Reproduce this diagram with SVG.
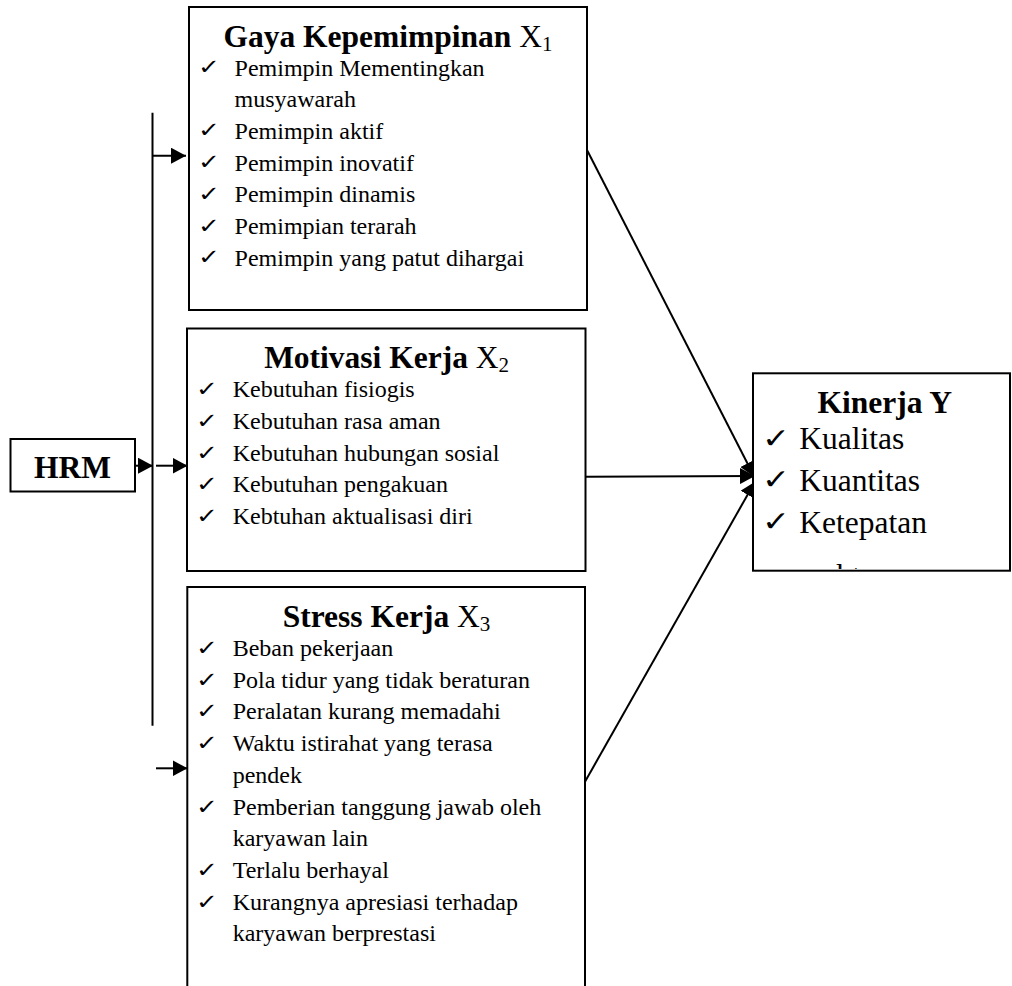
<svg xmlns="http://www.w3.org/2000/svg" width="1012" height="986" viewBox="0 0 1012 986">
<style>
.box{fill:#fff;stroke:#000;stroke-width:2}
.t{font-family:"Liberation Serif","Times New Roman",serif;font-weight:bold;font-size:31.5px;fill:#000}
.x{font-weight:normal}
.sub{font-weight:normal;font-size:21px}
.it{font-family:"Liberation Serif","Times New Roman",serif;font-size:24px;fill:#000}
.ck{font-family:"DejaVu Sans",sans-serif;font-size:21px;fill:#000}
.kit{font-family:"Liberation Serif","Times New Roman",serif;font-size:31.5px;fill:#000}
.kck{font-family:"DejaVu Sans",sans-serif;font-size:28px;fill:#000}
.ln{stroke:#000;stroke-width:2;fill:none}
</style>
<defs>
<marker id="ah" markerUnits="userSpaceOnUse" markerWidth="15" markerHeight="16" refX="15" refY="8" orient="auto" viewBox="0 0 15 16">
<path d="M0,0 L15,8 L0,16 z" fill="#000"/>
</marker>
<clipPath id="kclip"><rect x="753" y="373" width="257" height="196"/></clipPath>
</defs>
<rect width="1012" height="986" fill="#fff"/>

<g id="connectors">
<line class="ln" x1="152.5" y1="112.7" x2="152.5" y2="725.7"/>
<line class="ln" x1="152.5" y1="155.7" x2="186" y2="155.7" marker-end="url(#ah)"/>
<line class="ln" x1="135" y1="465.7" x2="153" y2="465.7" marker-end="url(#ah)"/>
<line class="ln" x1="156" y1="465.7" x2="187.5" y2="465.7" marker-end="url(#ah)"/>
<line class="ln" x1="156" y1="768.3" x2="187.5" y2="768.3" marker-end="url(#ah)"/>
<line class="ln" x1="587" y1="150" x2="754.3" y2="476.7" marker-end="url(#ah)"/>
<line class="ln" x1="585.5" y1="476.7" x2="755" y2="476" marker-end="url(#ah)"/>
<line class="ln" x1="585" y1="781.7" x2="755" y2="481.7" marker-end="url(#ah)"/>
</g>

<g id="hrm">
<rect class="box" x="10.5" y="439" width="124.5" height="52.5"/>
<text class="t" x="72.5" y="478.3" text-anchor="middle">HRM</text>
</g>

<g id="gaya">
<rect class="box" x="189" y="7" width="398" height="303"/>
<text class="t" x="388" y="46.7" text-anchor="middle">Gaya Kepemimpinan <tspan class="x">X</tspan><tspan class="sub" dy="4">1</tspan></text>
<g class="ck">
<text x="198" y="74" textLength="22" lengthAdjust="spacingAndGlyphs">✓</text><text x="198" y="137.4" textLength="22" lengthAdjust="spacingAndGlyphs">✓</text><text x="198" y="169.1" textLength="22" lengthAdjust="spacingAndGlyphs">✓</text><text x="198" y="200.8" textLength="22" lengthAdjust="spacingAndGlyphs">✓</text><text x="198" y="232.5" textLength="22" lengthAdjust="spacingAndGlyphs">✓</text><text x="198" y="264.2" textLength="22" lengthAdjust="spacingAndGlyphs">✓</text>
</g>
<g class="it">
<text x="234.6" y="75.5">Pemimpin Mementingkan</text>
<text x="234.6" y="107.2">musyawarah</text>
<text x="234.6" y="138.9">Pemimpin aktif</text>
<text x="234.6" y="170.6">Pemimpin inovatif</text>
<text x="234.6" y="202.3">Pemimpin dinamis</text>
<text x="234.6" y="234">Pemimpian terarah</text>
<text x="234.6" y="265.7">Pemimpin yang patut dihargai</text>
</g>
</g>

<g id="motivasi">
<rect class="box" x="187" y="328.5" width="398.5" height="242.5"/>
<text class="t" x="386.6" y="368.3" text-anchor="middle">Motivasi Kerja <tspan class="x">X</tspan><tspan class="sub" dy="4">2</tspan></text>
<g class="ck">
<text x="196" y="396.3" textLength="22" lengthAdjust="spacingAndGlyphs">✓</text><text x="196" y="428" textLength="22" lengthAdjust="spacingAndGlyphs">✓</text><text x="196" y="459.7" textLength="22" lengthAdjust="spacingAndGlyphs">✓</text><text x="196" y="491.4" textLength="22" lengthAdjust="spacingAndGlyphs">✓</text><text x="196" y="523.1" textLength="22" lengthAdjust="spacingAndGlyphs">✓</text>
</g>
<g class="it">
<text x="232.7" y="397.3">Kebutuhan fisiogis</text>
<text x="232.7" y="429">Kebutuhan rasa aman</text>
<text x="232.7" y="460.7">Kebutuhan hubungan sosial</text>
<text x="232.7" y="492.4">Kebutuhan pengakuan</text>
<text x="232.7" y="524.1">Kebtuhan aktualisasi diri</text>
</g>
</g>

<g id="stress">
<rect class="box" x="187.3" y="587" width="397.7" height="420"/>
<text class="t" x="386.5" y="626.7" text-anchor="middle">Stress Kerja <tspan class="x">X</tspan><tspan class="sub" dy="4">3</tspan></text>
<g class="ck">
<text x="196" y="655" textLength="22" lengthAdjust="spacingAndGlyphs">✓</text><text x="196" y="686.7" textLength="22" lengthAdjust="spacingAndGlyphs">✓</text><text x="196" y="718.4" textLength="22" lengthAdjust="spacingAndGlyphs">✓</text><text x="196" y="750.1" textLength="22" lengthAdjust="spacingAndGlyphs">✓</text><text x="196" y="813.5" textLength="22" lengthAdjust="spacingAndGlyphs">✓</text><text x="196" y="876.9" textLength="22" lengthAdjust="spacingAndGlyphs">✓</text><text x="196" y="908.6" textLength="22" lengthAdjust="spacingAndGlyphs">✓</text>
</g>
<g class="it">
<text x="232.7" y="656">Beban pekerjaan</text>
<text x="232.7" y="687.7">Pola tidur yang tidak beraturan</text>
<text x="232.7" y="719.4">Peralatan kurang memadahi</text>
<text x="232.7" y="751.1">Waktu istirahat yang terasa</text>
<text x="232.7" y="782.8">pendek</text>
<text x="232.7" y="814.5">Pemberian tanggung jawab oleh</text>
<text x="232.7" y="846.2">karyawan lain</text>
<text x="232.7" y="877.9">Terlalu berhayal</text>
<text x="232.7" y="909.6">Kurangnya apresiasi terhadap</text>
<text x="232.7" y="941.3">karyawan berprestasi</text>
</g>
</g>

<g id="kinerja">
<rect class="box" x="753" y="373.3" width="257" height="197.4"/>
<text class="t" x="884.7" y="413.3" text-anchor="middle">Kinerja Y</text>
<g class="kck">
<text x="762" y="447.5" textLength="28" lengthAdjust="spacingAndGlyphs">✓</text><text x="762" y="489.2" textLength="28" lengthAdjust="spacingAndGlyphs">✓</text><text x="762" y="531.2" textLength="28" lengthAdjust="spacingAndGlyphs">✓</text>
</g>
<g class="kit" clip-path="url(#kclip)">
<text x="799.3" y="449.3">Kualitas</text>
<text x="799.3" y="491">Kuantitas</text>
<text x="799.3" y="533">Ketepatan</text>
<text x="799.3" y="586">waktu</text>
</g>
</g>
</svg>
